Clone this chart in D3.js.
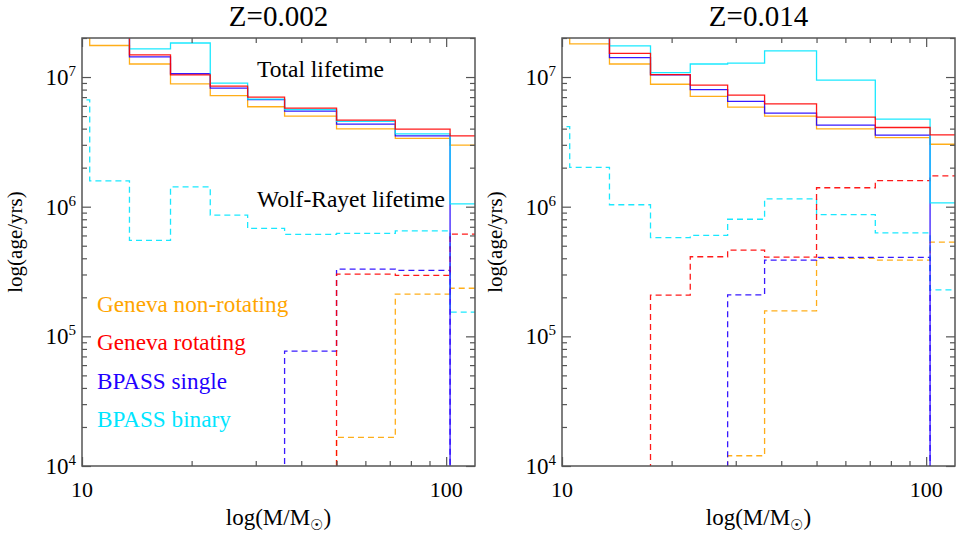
<!DOCTYPE html>
<html><head><meta charset="utf-8">
<script src="https://cdn.jsdelivr.net/npm/d3@7"></script>
<style>
body{margin:0;background:#fff}
</style>
</head><body>
<svg id="chart" width="960" height="534"></svg>
<script>
// ---- data ----
const massBinEdges = [7.5, 10.5, 13.5, 17.5, 22.5, 28.5, 36, 50, 72.5, 102.5, 140];
const panelTitles = ["Z=0.002", "Z=0.014"];
const seriesNames = ["Geneva non-rotating", "Geneva rotating", "BPASS single", "BPASS binary"];
const seriesColors = ["#ffa500", "#ff0000", "#2200ff", "#00e5ff"];
const xTickValues = [10, 100];
const xTickLabels = ["10", "100"];
const xMinorTicks = [20, 30, 40, 50, 60, 70, 80, 90];
const yTickValues = [1e4, 1e5, 1e6, 1e7];
const yTickExponents = ["4", "5", "6", "7"];

// Z=0.002 total lifetime
const z002TotalGenevaNonRot = [3.0e7, 1.75e7, 1.26e7, 8.85e6, 7.2e6, 5.9e6, 4.99e6, 3.98e6, 3.37e6, 2.98e6];
const z002TotalGenevaRot    = [3.3e7, 2.3e7, 1.48e7, 1.04e7, 8.5e6, 7.0e6, 5.75e6, 4.65e6, 3.96e6, 3.52e6];
const z002TotalBpassSingle  = [3.2e7, 2.2e7, 1.43e7, 1.06e7, 8.2e6, 6.7e6, 5.45e6, 4.33e6, 3.52e6, null];
const z002TotalBpassBinary  = [3.2e7, 2.2e7, 1.65e7, 1.83e7, 8.98e6, 6.75e6, 5.62e6, 4.55e6, 3.64e6, 1.05e6];
// Z=0.002 Wolf-Rayet lifetime
const z002WRGenevaNonRot = [null, null, null, null, null, null, null, 1.66e4, 2.12e5, 2.35e5];
const z002WRGenevaRot    = [null, null, null, null, null, null, null, 3.02e5, 2.95e5, 6.15e5];
const z002WRBpassSingle  = [null, null, null, null, null, null, 7.7e4, 3.3e5, 3.23e5, null];
const z002WRBpassBinary  = [6.67e6, 1.58e6, 5.5e5, 1.42e6, 8.6e5, 6.8e5, 6.12e5, 6.23e5, 6.5e5, 1.54e5];

// Z=0.014 total lifetime
const z014TotalGenevaNonRot = [3.0e7, 1.8e7, 1.26e7, 8.8e6, 7.1e6, 5.86e6, 4.99e6, 3.98e6, 3.41e6, 3.03e6];
const z014TotalGenevaRot    = [3.3e7, 2.3e7, 1.52e7, 1.045e7, 8.65e6, 7.24e6, 6.2e6, 4.9e6, 4.08e6, 3.58e6];
const z014TotalBpassSingle  = [3.2e7, 2.2e7, 1.41e7, 1.04e7, 8.0e6, 6.5e6, 5.26e6, 4.26e6, 3.56e6, null];
const z014TotalBpassBinary  = [3.2e7, 2.2e7, 1.74e7, 1.08e7, 1.26e7, 1.28e7, 1.59e7, 9.46e6, 4.73e6, 1.07e6];
// Z=0.014 Wolf-Rayet lifetime
const z014WRGenevaNonRot = [null, null, null, null, null, 1.2e4, 1.57e5, 4.0e5, 3.87e5, 5.33e5];
const z014WRGenevaRot    = [null, null, null, 2.08e5, 4.11e5, 4.63e5, 4.09e5, 1.40e6, 1.59e6, 1.73e6];
const z014WRBpassSingle  = [null, null, null, null, null, 2.09e5, 3.87e5, 4.07e5, 4.07e5, null];
const z014WRBpassBinary  = [4.15e6, 2.01e6, 1.035e6, 5.77e5, 6.0e5, 8.0e5, 1.15e6, 8.67e5, 6.27e5, 2.28e5];

const panels = [
  {title: panelTitles[0],
   total: [z002TotalGenevaNonRot, z002TotalGenevaRot, z002TotalBpassSingle, z002TotalBpassBinary],
   wr: [z002WRGenevaNonRot, z002WRGenevaRot, z002WRBpassSingle, z002WRBpassBinary],
   annotate: true},
  {title: panelTitles[1],
   total: [z014TotalGenevaNonRot, z014TotalGenevaRot, z014TotalBpassSingle, z014TotalBpassBinary],
   wr: [z014WRGenevaNonRot, z014WRGenevaRot, z014WRBpassSingle, z014WRBpassBinary],
   annotate: false}
];

// ---- layout ----
const serif = "'Liberation Serif', 'Times New Roman', Times, 'DejaVu Serif', serif";
const svg = d3.select("#chart");
const panelLeft = [82, 562];
const plotTop = 38, W = 393, H = 428;
const axisColor = "#555";
const drawOrder = [0, 2, 3, 1];

const txt = (sel, size) => sel.append("text").attr("font-family", serif).attr("font-size", size).attr("fill", "#000");

panels.forEach((p, pi) => {
  const g = svg.append("g").attr("transform", `translate(${panelLeft[pi]},${plotTop})`);
  const x = d3.scaleLog().domain([10, 120]).range([0, W]);
  const y = d3.scaleLog().domain([1e4, 2e7]).range([H, 0]);
  const yVal = v => v == null ? H + 20 : y(v);

  const clipId = "clip" + pi;
  g.append("clipPath").attr("id", clipId).append("rect")
    .attr("x", 0).attr("y", 0).attr("width", W).attr("height", H);

  const line = d3.line().x(d => x(d[0])).y(d => yVal(d[1])).curve(d3.curveStepAfter);
  const stepPts = vals => {
    const pts = vals.map((v, i) => [massBinEdges[i], v]);
    pts.push([massBinEdges[vals.length], vals[vals.length - 1]]);
    return pts;
  };

  const plot = g.append("g").attr("clip-path", `url(#${clipId})`);
  drawOrder.forEach(si => {
    plot.append("path").attr("d", line(stepPts(p.wr[si])))
      .attr("fill", "none").attr("stroke", seriesColors[si])
      .attr("stroke-width", 1.3).attr("stroke-dasharray", "6,4").attr("opacity", 0.9);
  });
  drawOrder.forEach(si => {
    plot.append("path").attr("d", line(stepPts(p.total[si])))
      .attr("fill", "none").attr("stroke", seriesColors[si])
      .attr("stroke-width", 1.3).attr("opacity", 0.9);
  });

  // axes ticks (inward)
  const yMinor = [];
  [1e4, 1e5, 1e6, 1e7].forEach(d => { for (let k = 2; k <= 9; k++) if (d * k <= 2e7) yMinor.push(d * k); });
  const styleAxis = sel => {
    sel.select(".domain").remove();
    sel.selectAll("line").attr("stroke", axisColor).attr("stroke-width", 1.2);
    sel.selectAll("text").remove();
  };
  g.append("g").attr("transform", `translate(0,${H})`).call(d3.axisBottom(x).tickValues(xTickValues).tickSize(-9).tickSizeOuter(0)).call(styleAxis);
  g.append("g").attr("transform", `translate(0,${H})`).call(d3.axisBottom(x).tickValues(xMinorTicks).tickSize(-5).tickSizeOuter(0)).call(styleAxis);
  g.append("g").call(d3.axisTop(x).tickValues(xTickValues).tickSize(-9).tickSizeOuter(0)).call(styleAxis);
  g.append("g").call(d3.axisTop(x).tickValues(xMinorTicks).tickSize(-5).tickSizeOuter(0)).call(styleAxis);
  g.append("g").call(d3.axisLeft(y).tickValues(yTickValues).tickSize(-9).tickSizeOuter(0)).call(styleAxis);
  g.append("g").call(d3.axisLeft(y).tickValues(yMinor).tickSize(-5).tickSizeOuter(0)).call(styleAxis);
  g.append("g").attr("transform", `translate(${W},0)`).call(d3.axisRight(y).tickValues(yTickValues).tickSize(-9).tickSizeOuter(0)).call(styleAxis);
  g.append("g").attr("transform", `translate(${W},0)`).call(d3.axisRight(y).tickValues(yMinor).tickSize(-5).tickSizeOuter(0)).call(styleAxis);

  g.append("rect").attr("x", 0).attr("y", 0).attr("width", W).attr("height", H)
    .attr("fill", "none").attr("stroke", axisColor).attr("stroke-width", 1.5);

  // tick labels
  xTickValues.forEach((v, i) => {
    txt(g, 22).attr("x", x(v)).attr("y", H + 31).attr("text-anchor", "middle").text(xTickLabels[i]);
  });
  yTickValues.forEach((v, i) => {
    const t = txt(g, 23).attr("x", -6).attr("y", y(v) + 8).attr("text-anchor", "end");
    t.append("tspan").text("10");
    t.append("tspan").attr("dy", -9).attr("font-size", 15).text(yTickExponents[i]);
  });

  // title and axis titles
  txt(g, 29).attr("x", W / 2).attr("y", -12).attr("text-anchor", "middle").text(p.title);
  const xl = txt(g, 23).attr("x", W / 2).attr("y", H + 59).attr("text-anchor", "middle");
  xl.append("tspan").text("log(M/M");
  xl.append("tspan").attr("dy", 5).attr("font-size", 15).attr("font-family", "'DejaVu Sans'").text("\u2609");
  xl.append("tspan").attr("dy", -5).text(")");
  txt(g, 21).attr("transform", `translate(-60,${H / 2 - 10}) rotate(-90)`)
    .attr("text-anchor", "middle").text("log(age/yrs)");

  if (p.annotate) {
    txt(g, 23.5).attr("x", 175).attr("y", 39).text("Total lifetime");
    txt(g, 23.5).attr("x", 175).attr("y", 169).text("Wolf-Rayet lifetime");
    seriesNames.forEach((n, i) => {
      txt(g, 23.2).attr("x", 15).attr("y", 274 + i * 38.4).attr("fill", seriesColors[i]).text(n);
    });
  }
});
</script>
</body></html>
